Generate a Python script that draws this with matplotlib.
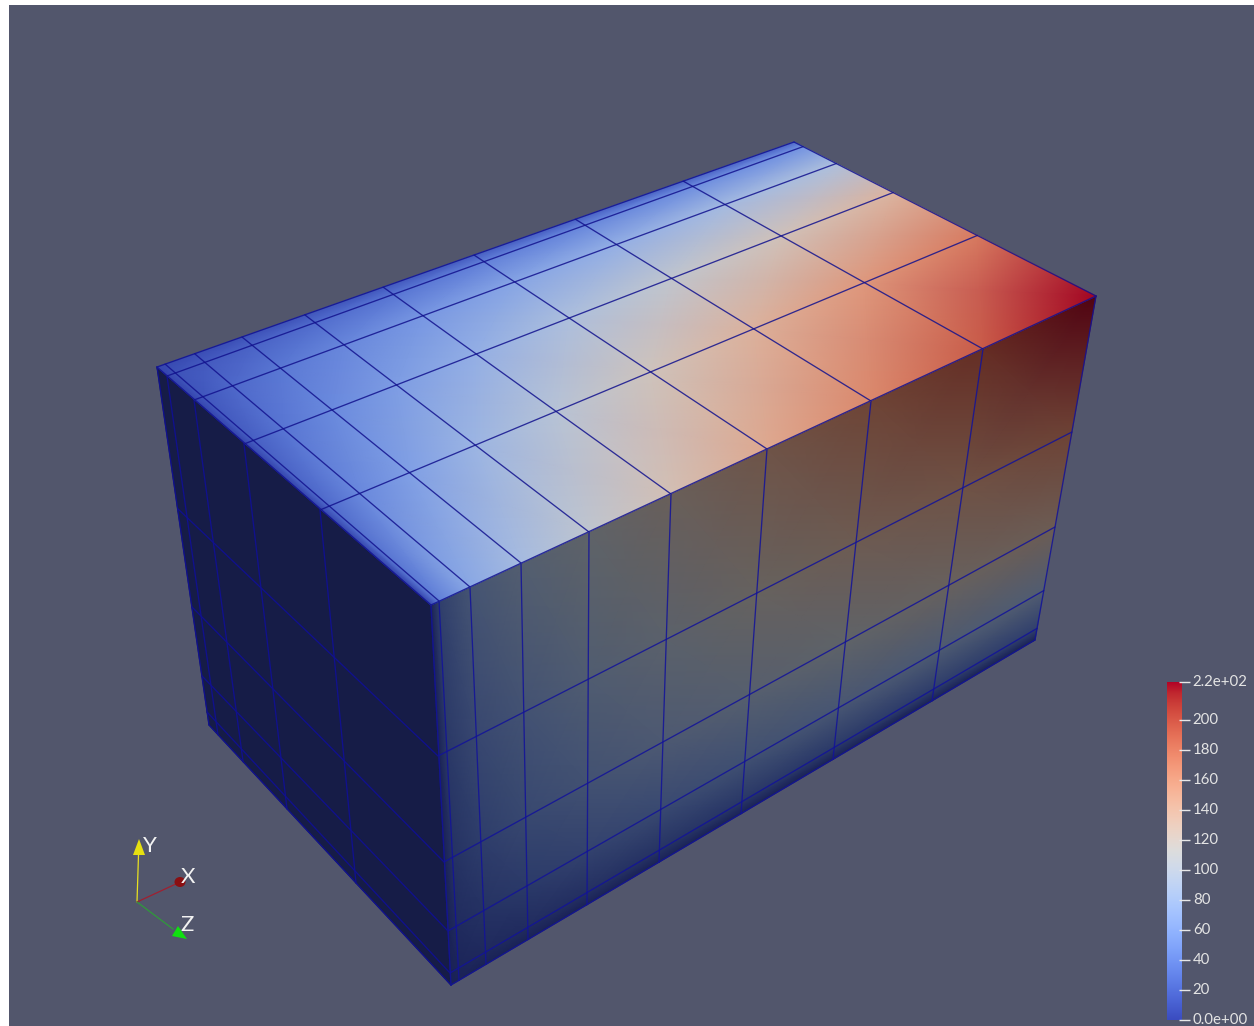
import numpy as np
import matplotlib
matplotlib.use("Agg")
import matplotlib.pyplot as plt
from matplotlib.colors import ListedColormap
from matplotlib.patches import Polygon, Rectangle, Ellipse

# ---- data: field values read at the mesh nodes (row = mesh line, col = mesh line)
top_values = np.array([
    [0,  3,  5,  7,  9, 11, 14, 16, 18, 20],
    [0,  8, 13, 18, 23, 29, 36, 40, 44, 48],
    [0, 11, 21, 30, 40, 51, 62, 72, 82, 90],
    [0, 15, 29, 42, 56, 72, 90, 106, 122, 138],
    [0, 22, 41, 58, 77, 98, 120, 140, 160, 178],
    [0, 35, 65, 85, 105, 125, 148, 170, 195, 225],
], float)
front_values = np.array([
    [0, 35, 65, 85, 105, 125, 148, 170, 195, 225],
    [0, 25, 45, 62, 80, 98, 118, 135, 152, 172],
    [0, 18, 32, 46, 60, 75, 90, 105, 120, 132],
    [0, 10, 18, 28, 38, 48, 58, 68, 76, 82],
    [0,  4,  8, 12, 16, 20, 24, 28, 32, 36],
    [0,  0,  0,  0,  0,  0,  0,  0,  0,  0],
], float)
left_values = np.zeros((6, 6))

# ---- mesh geometry: where the mesh lines meet the box edges
edge_AB = [(157, 367), (165, 364), (195, 354), (242, 337), (305, 315), (383, 287), (474, 255), (575, 219), (683, 181), (794, 142)]
edge_DC = [(431, 605), (439, 601), (470, 587), (521, 563), (589, 532), (671, 494), (767, 449), (871, 401), (983, 349), (1096, 296)]
edge_AD = [(157, 367), (167, 376), (194, 400), (244, 444), (320, 510), (431, 605)]
edge_BC = [(794, 142), (802, 147), (835, 164), (892, 193), (976, 236), (1096, 296)]
edge_bottom_front = [(451, 985), (459, 980), (486, 964), (528, 939), (587, 904), (659, 862), (741, 814), (833, 759), (932, 701), (1035, 640)]
edge_front_left = [(431, 605), (438, 756), (444, 862), (448, 931), (450, 973), (451, 985)]
edge_front_right = [(1096, 296), (1072, 432), (1055, 527), (1043, 591), (1036, 629), (1035, 640)]
edge_left_outer = [(157, 367), (177, 508), (193, 608), (203, 677), (208, 713), (209, 725)]
edge_bottom_left = [(209, 725), (218, 735), (243, 761), (287, 809), (356, 883), (451, 985)]

# ---- colour bar
bar_min, bar_max = 0, 225
tick_values = [0, 20, 40, 60, 80, 100, 120, 140, 160, 180, 200, 225]
tick_labels = ['0.0e+00', '20', '40', '60', '80', '100', '120', '140', '160', '180', '200', '2.2e+02']

BG = '#52566c'
plt.rcParams['font.family'] = ['Lato', 'DejaVu Sans']

W, H = 1254, 1026
fig = plt.figure(figsize=(W / 100, H / 100), dpi=100, facecolor='white')
ax = fig.add_axes([0, 0, 1, 1])
ax.set_xlim(0, W)
ax.set_ylim(H, 0)
ax.axis('off')
ax.add_patch(Rectangle((9, 5), W - 9, H - 5, fc=BG, ec='none', zorder=0))


def lit(factor):
    base = plt.get_cmap('coolwarm')(np.linspace(0, 1, 256))[:, :3]
    return ListedColormap(base * factor)


def nodes(e0, e1, f0, f1):
    """Intersections of the lines e0[i]-e1[i] with the lines f0[j]-f1[j]."""
    e0, e1, f0, f1 = map(lambda a: np.array(a, float), (e0, e1, f0, f1))
    X = np.zeros((len(f0), len(e0)))
    Y = np.zeros_like(X)
    for j in range(len(f0)):
        for i in range(len(e0)):
            d1 = e1[i] - e0[i]
            d2 = f1[j] - f0[j]
            A = np.array([d1, -d2]).T
            u = np.linalg.solve(A, f0[j] - e0[i])[0]
            X[j, i], Y[j, i] = e0[i] + u * d1
    return X, Y


def face(X, Y, V, factor, z, lw, color, alpha):
    ax.pcolormesh(X, Y, V, shading='gouraud', cmap=lit(factor), vmin=bar_min, vmax=bar_max, zorder=z)
    for j in range(X.shape[0]):
        ax.plot(X[j], Y[j], color=color, lw=lw, alpha=alpha, zorder=z + 0.5, solid_capstyle='round')
    for i in range(X.shape[1]):
        ax.plot(X[:, i], Y[:, i], color=color, lw=lw, alpha=alpha, zorder=z + 0.5, solid_capstyle='round')


Xl, Yl = nodes(edge_AD, edge_bottom_left, edge_left_outer, edge_front_left)
face(Xl, Yl, left_values, 0.37, 2, 0.95, '#10108e', 1.0)
Xf, Yf = nodes(edge_DC, edge_bottom_front, edge_front_left, edge_front_right)
face(Xf, Yf, front_values, 0.45, 3, 0.95, '#12129a', 0.85)
Xt, Yt = nodes(edge_AB, edge_DC, edge_AD, edge_BC)
face(Xt, Yt, top_values, 0.9, 4, 0.95, '#12128e', 0.85)

# ---- orientation triad
ax.plot([137, 138.5], [902, 855], color='#e8e020', lw=0.9, zorder=6)
ax.add_patch(Polygon([(139, 839), (133, 855), (145, 855)], fc='#e6e010', ec='none', zorder=7))
ax.plot([137, 178], [902, 883], color='#a02030', lw=0.9, zorder=6)
ax.add_patch(Ellipse((180, 882), 11, 10, fc='#8a0f12', ec='none', zorder=7))
ax.plot([137, 173], [902, 929], color='#2f9a3a', lw=0.9, zorder=6)
ax.add_patch(Polygon([(187, 939), (172, 936), (178, 926)], fc='#10e010', ec='none', zorder=7))
for s, x, y in [('Y', 149.5, 846), ('X', 188, 877), ('Z', 187, 925)]:
    ax.text(x, y, s, color='#f2f2f2', fontsize=16, ha='center', va='center', zorder=8)

# ---- colour bar
cax = fig.add_axes([1167 / W, 1 - 1020 / H, 15 / W, 338 / H])
cax.imshow(np.linspace(bar_max, bar_min, 512)[:, None], cmap='coolwarm', aspect='auto',
           extent=[0, 1, bar_min, bar_max], vmin=bar_min, vmax=bar_max, interpolation='bilinear')
cax.set_xticks([])
cax.set_yticks([])
for sp in cax.spines.values():
    sp.set_visible(False)
tr = cax.get_yaxis_transform()
cax.hlines(tick_values, 0.8, 1.5, color='#e8e8e8', lw=1.0, transform=tr, clip_on=False, zorder=5)
for v, lab in zip(tick_values, tick_labels):
    cax.text(1.72, v, lab, transform=tr, color='#e4e4e4', fontsize=10.8, ha='left', va='center', clip_on=False)

fig.savefig('out.png', dpi=100, facecolor='white')
